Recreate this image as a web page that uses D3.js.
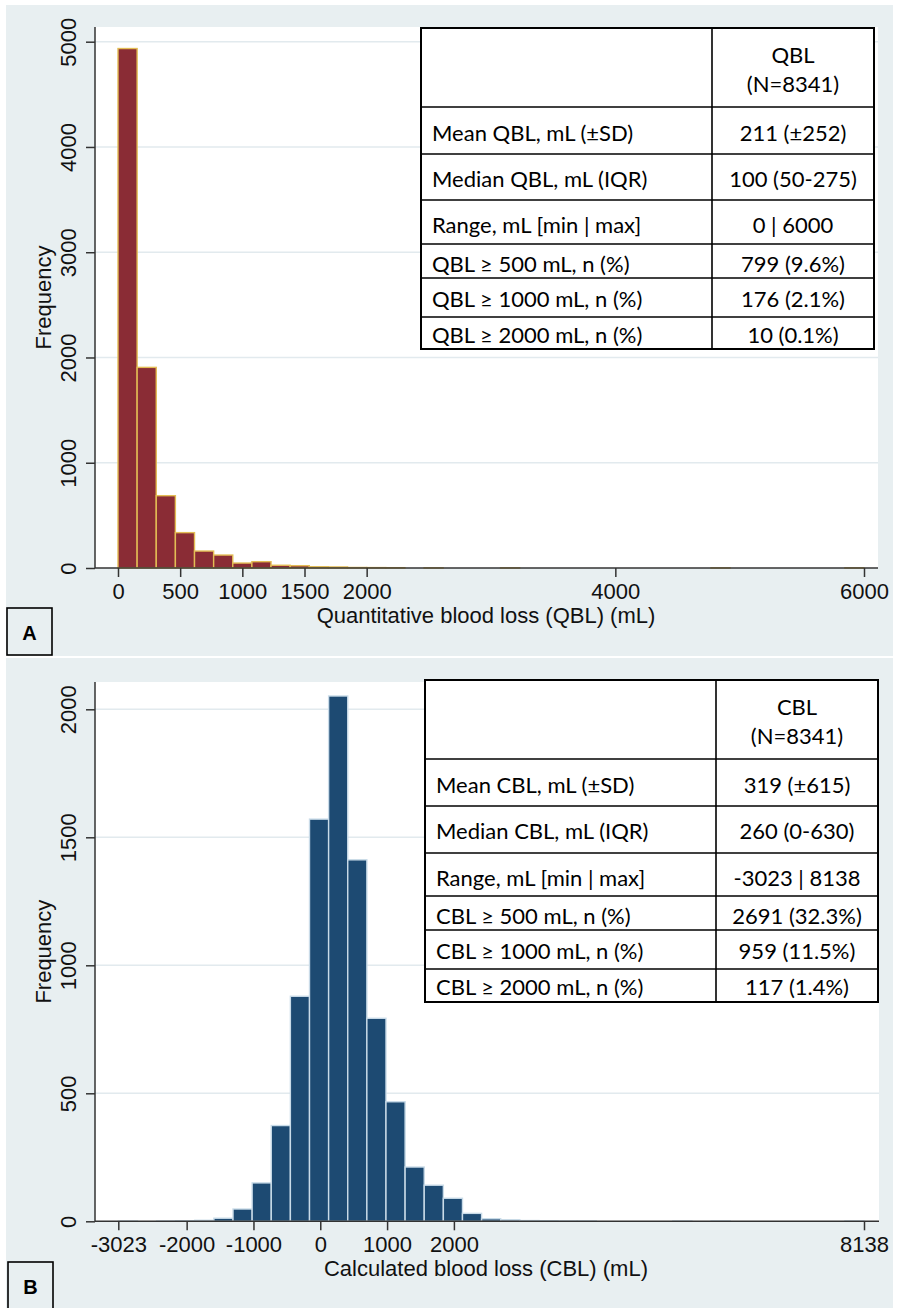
<!DOCTYPE html>
<html>
<head>
<meta charset="utf-8">
<script src="https://cdn.jsdelivr.net/npm/d3@7"></script>
<style>
  body { margin: 0; background: #fff; }
  svg { display: block; }
</style>
</head>
<body>
<div id="chart"></div>
<script>
// QBL histogram: 39 bins over 0..6000 mL
const qblRange = [0, 6000];
const qblCounts = [4935, 1906, 687, 336, 161, 123, 47, 60, 26, 22, 12, 10, 5, 4, 3,
  0, 1, 0, 0, 0, 1, 0, 0, 0, 0, 0, 0, 0, 0, 0, 0, 1, 0, 0, 0, 0, 0, 0, 1];
const qblXTicks = [0, 500, 1000, 1500, 2000, 4000, 6000];
const qblYTicks = [0, 1000, 2000, 3000, 4000, 5000];

// CBL histogram: 39 bins over -3023..8138 mL
const cblRange = [-3023, 8138];
const cblCounts = [1, 0, 1, 2, 4, 12, 48, 150, 374, 879, 1571, 2052, 1412, 793, 467, 212, 141, 90, 31, 10,
  6, 3, 2, 1, 1, 0, 0, 0, 0, 1, 0, 1, 0, 0, 0, 0, 0, 0, 1];
const cblXTicks = [-3023, -2000, -1000, 0, 1000, 2000, 8138];
const cblYTicks = [0, 500, 1000, 1500, 2000];

// summary tables
const qblHeader = ["QBL", "(N=8341)"];
const qblLabels = ["Mean QBL, mL (±SD)", "Median QBL, mL (IQR)", "Range, mL [min | max]",
  "QBL ≥ 500 mL, n (%)", "QBL ≥ 1000 mL, n (%)", "QBL ≥ 2000 mL, n (%)"];
const qblValues = ["211 (±252)", "100 (50-275)", "0 | 6000", "799 (9.6%)", "176 (2.1%)", "10 (0.1%)"];

const cblHeader = ["CBL", "(N=8341)"];
const cblLabels = ["Mean CBL, mL (±SD)", "Median CBL, mL (IQR)", "Range, mL [min | max]",
  "CBL ≥ 500 mL, n (%)", "CBL ≥ 1000 mL, n (%)", "CBL ≥ 2000 mL, n (%)"];
const cblValues = ["319 (±615)", "260 (0-630)", "-3023 | 8138", "2691 (32.3%)", "959 (11.5%)", "117 (1.4%)"];

const W = 898, H = 1308;
const svg = d3.select("#chart").append("svg").attr("width", W).attr("height", H);

const axisFont = "'Liberation Sans', Arial, sans-serif";
const tableFont = "Lato, 'Open Sans', sans-serif";
const plain = d => String(d); // keep ASCII hyphen for negatives, no thousands comma

function drawPanel(cfg) {
  // panel backdrop
  svg.append("rect").attr("x", cfg.frame[0]).attr("y", cfg.frame[1])
    .attr("width", cfg.frame[2]).attr("height", cfg.frame[3]).attr("fill", "#e8eff1");

  const p = cfg.plot;
  svg.append("rect").attr("x", p.x0).attr("y", p.y0)
    .attr("width", p.x1 - p.x0).attr("height", p.y1 - p.y0).attr("fill", "#fff");

  const x = d3.scaleLinear().domain(cfg.range).range(cfg.xRange);
  const y = d3.scaleLinear().domain([0, cfg.yTicks[cfg.yTicks.length - 1]]).range([p.y1, cfg.yTop]);

  // grid lines
  svg.append("g").selectAll("line").data(cfg.yTicks.filter(d => d > 0)).enter().append("line")
    .attr("x1", p.x0).attr("x2", p.x1)
    .attr("y1", d => y(d)).attr("y2", d => y(d))
    .attr("stroke", "#e2eaee").attr("stroke-width", 1.5);

  // bars
  const n = cfg.counts.length;
  const bw = (cfg.range[1] - cfg.range[0]) / n;
  const bins = cfg.counts.map((c, i) => ({x0: cfg.range[0] + i * bw, x1: cfg.range[0] + (i + 1) * bw, c: c}))
    .filter(d => d.c > 0);
  svg.append("g").selectAll("rect").data(bins).enter().append("rect")
    .attr("x", d => x(d.x0))
    .attr("width", d => x(d.x1) - x(d.x0))
    .attr("y", d => y(d.c))
    .attr("height", d => y(0) - y(d.c))
    .attr("fill", cfg.fill)
    .attr("stroke", cfg.stroke)
    .attr("stroke-width", 1.4);

  // x axis
  const xAxis = svg.append("g").attr("transform", `translate(0,${p.y1})`)
    .call(d3.axisBottom(x).tickValues(cfg.xTicks).tickFormat(plain).tickSize(9).tickSizeOuter(0));
  xAxis.select(".domain").attr("d", `M${p.x0},0H${p.x1}`);
  // y axis
  const yAxis = svg.append("g").attr("transform", `translate(${p.x0},0)`)
    .call(d3.axisLeft(y).tickValues(cfg.yTicks).tickFormat(plain).tickSize(9).tickSizeOuter(0));
  yAxis.select(".domain").attr("d", `M0,${p.y0}V${p.y1}`);
  yAxis.selectAll(".tick text")
    .attr("transform", "rotate(-90)")
    .attr("x", 0).attr("y", -19).attr("dy", 0)
    .attr("text-anchor", "middle");

  [xAxis, yAxis].forEach(a => {
    a.selectAll(".domain, .tick line").attr("stroke", "#333").attr("stroke-width", 1.5);
    a.selectAll(".tick text").attr("font-family", axisFont).attr("font-size", 22).attr("fill", "#111");
  });
  xAxis.selectAll(".tick text").attr("dy", 0).attr("y", 31);

  // axis titles
  svg.append("text").attr("x", 486).attr("y", p.y1 + 55)
    .attr("text-anchor", "middle").attr("font-family", axisFont).attr("font-size", 22).attr("fill", "#111")
    .text(cfg.xTitle);
  svg.append("text").attr("transform", `translate(51,${(p.y0 + p.y1) / 2}) rotate(-90)`)
    .attr("text-anchor", "middle").attr("font-family", axisFont).attr("font-size", 22).attr("fill", "#111")
    .text("Frequency");

  // summary table
  const t = cfg.table;
  const tops = [t.top];
  t.rows.forEach(h => tops.push(tops[tops.length - 1] + h));
  const tg = svg.append("g");
  tg.append("rect").attr("x", t.x0).attr("y", t.top).attr("width", t.x1 - t.x0)
    .attr("height", tops[tops.length - 1] - t.top).attr("fill", "#fff");
  tg.selectAll(".hline").data(tops.slice(1, -1)).enter().append("line")
    .attr("x1", t.x0).attr("x2", t.x1).attr("y1", d => d).attr("y2", d => d)
    .attr("stroke", "#000").attr("stroke-width", 1.6);
  tg.append("line").attr("x1", t.split).attr("x2", t.split).attr("y1", t.top).attr("y2", tops[tops.length - 1])
    .attr("stroke", "#000").attr("stroke-width", 1.6);
  tg.append("rect").attr("x", t.x0).attr("y", t.top).attr("width", t.x1 - t.x0)
    .attr("height", tops[tops.length - 1] - t.top).attr("fill", "none").attr("stroke", "#000").attr("stroke-width", 2);

  const mid = (t.split + t.x1) / 2;
  tg.selectAll(".head").data(cfg.header).enter().append("text")
    .attr("x", mid).attr("y", (d, i) => t.top + 35 + i * 29)
    .attr("text-anchor", "middle").attr("font-family", tableFont).attr("font-size", 22).attr("fill", "#000")
    .text(d => d);
  const offs = [34, 33, 33, 28, 29, 26];
  tg.selectAll(".lab").data(cfg.labels).enter().append("text")
    .attr("x", t.x0 + 11).attr("y", (d, i) => tops[i + 1] + offs[i])
    .attr("font-family", tableFont).attr("font-size", 22).attr("fill", "#000")
    .text(d => d);
  tg.selectAll(".val").data(cfg.values).enter().append("text")
    .attr("x", mid).attr("y", (d, i) => tops[i + 1] + offs[i])
    .attr("text-anchor", "middle").attr("font-family", tableFont).attr("font-size", 22).attr("fill", "#000")
    .text(d => d);

  // panel letter
  const b = cfg.letterBox;
  svg.append("rect").attr("x", b[0]).attr("y", b[1]).attr("width", b[2]).attr("height", b[3])
    .attr("fill", "none").attr("stroke", "#000").attr("stroke-width", 1.6);
  svg.append("text").attr("x", b[0] + b[2] / 2).attr("y", b[1] + 32)
    .attr("text-anchor", "middle").attr("font-family", axisFont).attr("font-weight", "bold")
    .attr("font-size", 20).text(cfg.letter);
}

drawPanel({
  frame: [6, 5, 887, 651],
  plot: {x0: 95, x1: 878, y0: 27, y1: 568},
  range: qblRange, xRange: [118, 864], yTop: 41.7,
  counts: qblCounts, xTicks: qblXTicks, yTicks: qblYTicks,
  fill: "#8a2c35", stroke: "#e3bd55",
  xTitle: "Quantitative blood loss (QBL) (mL)",
  table: {x0: 421, x1: 874, split: 712, top: 28, rows: [79, 47, 46, 44, 34, 39, 32]},
  header: qblHeader, labels: qblLabels, values: qblValues,
  letterBox: [7, 608, 45, 47], letter: "A"
});

drawPanel({
  frame: [6, 658, 887, 650],
  plot: {x0: 95, x1: 879, y0: 682, y1: 1221.3},
  range: cblRange, xRange: [118.3, 864], yTop: 709.3,
  counts: cblCounts, xTicks: cblXTicks, yTicks: cblYTicks,
  fill: "#1d4a72", stroke: "#c9dbe8",
  xTitle: "Calculated blood loss (CBL) (mL)",
  table: {x0: 425, x1: 878, split: 716, top: 680, rows: [79, 47, 47, 43, 34, 39, 33]},
  header: cblHeader, labels: cblLabels, values: cblValues,
  letterBox: [8, 1262, 45, 50], letter: "B"
});
</script>
</body>
</html>
